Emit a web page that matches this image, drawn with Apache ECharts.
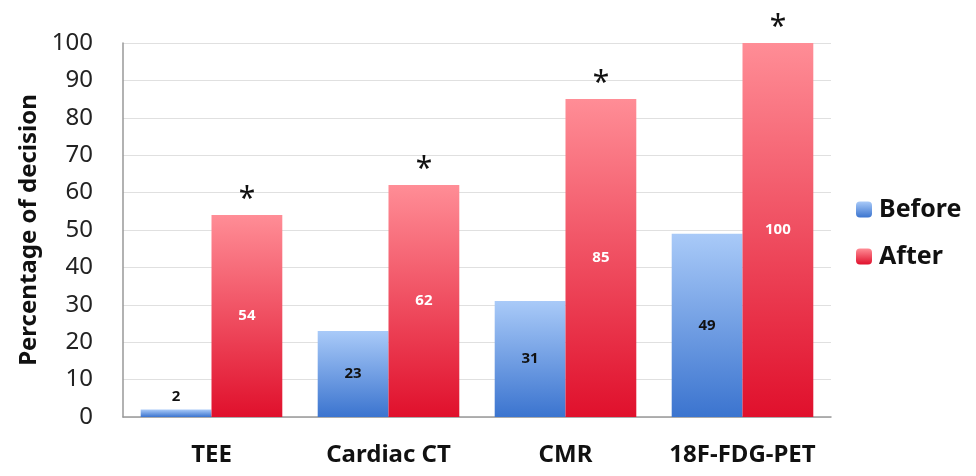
<!DOCTYPE html>
<html><head><meta charset="utf-8">
<script src="https://cdn.jsdelivr.net/npm/echarts@6/dist/echarts.min.js"></script>
<style>html,body{margin:0;padding:0;background:#fff}#c{width:976px;height:476px}</style>
</head><body><div id="c"></div>
<script>
var categories = ['TEE', 'Cardiac CT', 'CMR', '18F-FDG-PET'];
var beforeValues = [2, 23, 31, 49];
var afterValues = [54, 62, 85, 100];
var yTicks = [0,10,20,30,40,50,60,70,80,90,100];

var FONT = '"Noto Sans", sans-serif';
function grad(top, bottom){
  return new echarts.graphic.LinearGradient(0,0,0,1,[{offset:0,color:top},{offset:1,color:bottom}]);
}
var chart = echarts.init(document.getElementById('c'));
chart.setOption({
  animation:false,
  textStyle:{fontFamily:FONT},
  grid:{left:123,right:145,top:43,bottom:59},
  legend:{
    orient:'vertical', left:851, top:192, itemWidth:16, itemHeight:16, itemGap:22,
    textStyle:{fontSize:25,fontWeight:'bold',color:'#111',fontFamily:FONT,padding:[0,0,0,2]},
    data:['Before','After']
  },
  xAxis:{
    type:'category', data:categories,
    axisLine:{lineStyle:{color:'#999',width:1.5}},
    axisTick:{show:false},
    axisLabel:{interval:0,fontSize:24,fontWeight:'bold',color:'#111',margin:26,fontFamily:FONT}
  },
  yAxis:{
    type:'value', min:0, max:100, interval:10,
    name:'Percentage of decision', nameLocation:'middle', nameGap:82,
    nameTextStyle:{fontSize:24,fontWeight:'bold',color:'#111',fontFamily:FONT},
    axisLine:{show:true,lineStyle:{color:'#999',width:1.5}},
    axisTick:{show:false},
    axisLabel:{fontSize:24,color:'#222',margin:30,fontFamily:FONT},
    splitLine:{lineStyle:{color:'#e0e0e0'}}
  },
  series:[
    {
      name:'Before', type:'bar', barGap:'0%', barCategoryGap:'20%',
      data:beforeValues.map(function(v){
        return {value:v, label:{position: v < 8 ? 'top' : 'inside'}};
      }),
      itemStyle:{color:grad('#a9caf8','#3b74cf')},
      label:{show:true,fontSize:15,fontWeight:'bold',color:'#111',fontFamily:FONT}
    },
    {
      name:'After', type:'bar',
      data:afterValues,
      itemStyle:{color:grad('#ff8d96','#e0102c')},
      label:{show:true,position:'inside',fontSize:15,fontWeight:'bold',color:'#fff',fontFamily:FONT},
      markPoint:{
        symbol:'circle', symbolSize:0,
        label:{show:true,formatter:'*',fontSize:30,color:'#111',offset:[0,-16],fontFamily:FONT},
        data:afterValues.map(function(v,i){return {coord:[i,v]};})
      }
    }
  ]
});
</script></body></html>
